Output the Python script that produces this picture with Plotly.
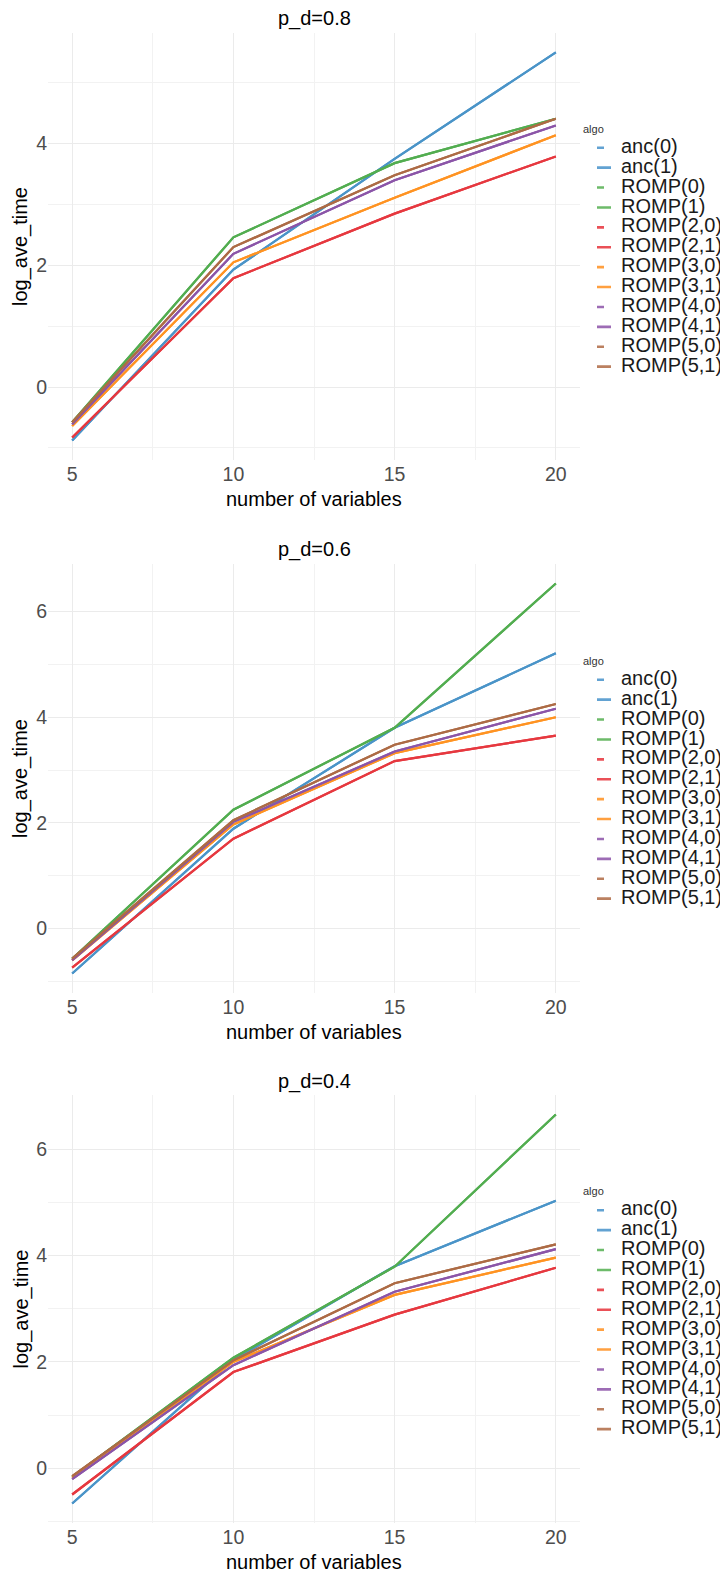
import plotly.graph_objects as go

# ---------------- data ----------------
x_vars = [5, 10, 15, 20]
algos = ["anc(0)", "anc(1)", "ROMP(0)", "ROMP(1)", "ROMP(2,0)", "ROMP(2,1)",
         "ROMP(3,0)", "ROMP(3,1)", "ROMP(4,0)", "ROMP(4,1)", "ROMP(5,0)", "ROMP(5,1)"]
panel_titles = ["p_d=0.8", "p_d=0.6", "p_d=0.4"]
x_ticks = [5, 10, 15, 20]
y_ticks = [0, 2, 4, 6]

# p_d = 0.8  (the (0) and (1) variants coincide)
pd08_anc = [-0.88, 1.93, 3.75, 5.50]
pd08_romp1 = [-0.58, 2.46, 3.68, 4.41]
pd08_romp2 = [-0.83, 1.79, 2.85, 3.79]
pd08_romp3 = [-0.64, 2.05, 3.11, 4.14]
pd08_romp4 = [-0.61, 2.19, 3.40, 4.30]
pd08_romp5 = [-0.58, 2.30, 3.48, 4.41]

# p_d = 0.6
pd06_anc = [-0.85, 1.89, 3.80, 5.21]
pd06_romp1 = [-0.57, 2.25, 3.80, 6.53]
pd06_romp2 = [-0.74, 1.70, 3.17, 3.65]
pd06_romp3 = [-0.60, 1.97, 3.32, 4.00]
pd06_romp4 = [-0.60, 2.02, 3.35, 4.16]
pd06_romp5 = [-0.57, 2.05, 3.48, 4.25]

# p_d = 0.4
pd04_anc = [-0.66, 2.04, 3.80, 5.03]
pd04_romp1 = [-0.16, 2.08, 3.79, 6.65]
pd04_romp2 = [-0.49, 1.81, 2.89, 3.77]
pd04_romp3 = [-0.18, 2.00, 3.26, 3.96]
pd04_romp4 = [-0.20, 1.94, 3.32, 4.12]
pd04_romp5 = [-0.145, 2.03, 3.48, 4.21]

panels = [
    [pd08_anc, pd08_romp1, pd08_romp2, pd08_romp3, pd08_romp4, pd08_romp5],
    [pd06_anc, pd06_romp1, pd06_romp2, pd06_romp3, pd06_romp4, pd06_romp5],
    [pd04_anc, pd04_romp1, pd04_romp2, pd04_romp3, pd04_romp4, pd04_romp5],
]

# ---------------- style ----------------
line_colors = ["#4A94C8", "#52AD50", "#E6383F", "#FF9322", "#8B55A8", "#AD6B45"]
key_colors = ["#62A2D2", "#6DBB6A", "#EA5057", "#FFA040", "#9D6CB5", "#BB8060"]
FONT = "Liberation Sans, Arial, sans-serif"

# the page body has an 8px margin, so the figure starts at (8, 8) in the window
OFF = 8
W, H = 728 - OFF, 1574 - OFF

# pixel geometry (window coordinates) of the three panels (top, bottom)
plot_left, plot_right = 48, 580
panel_px = [(33, 460), (564, 993), (1095, 1523)]


def px_x(px):
    return (px - OFF) / W


def py(px):
    return 1 - (px - OFF) / H


fig = go.Figure()
layout_axes = {}
annotations = []

for p, series in enumerate(panels):
    sfx = "" if p == 0 else str(p + 1)
    xa, ya = "x" + sfx, "y" + sfx
    leg = "legend" + sfx
    # data lines
    for i, name in enumerate(algos):
        vals = series[i // 2]
        fig.add_trace(go.Scatter(
            x=x_vars, y=vals, mode="lines", name=name, xaxis=xa, yaxis=ya,
            line=dict(color=line_colors[i // 2], width=2.2),
            showlegend=False, hoverinfo="x+y+name"))
    # legend entries (short ggplot-like keys)
    for i, name in enumerate(algos):
        dash = "0px,11px,7px,100px" if i % 2 == 0 else "0px,11px,14px,100px"
        fig.add_trace(go.Scatter(
            x=[None], y=[None], mode="lines", xaxis=xa, yaxis=ya,
            name='<span style="font-size:20px">' + name + '</span>',
            line=dict(color=key_colors[i // 2], width=2.6, dash=dash),
            legend=leg, showlegend=True, hoverinfo="skip"))

    allv = [v for s in series for v in s]
    lo, hi = min(allv), max(allv)
    pad = 0.05 * (hi - lo)
    top, bot = panel_px[p]
    layout_axes["xaxis" + sfx] = dict(
        domain=[px_x(plot_left), px_x(plot_right)], anchor=ya, range=[4.25, 20.75],
        tickvals=x_ticks, ticks="", showline=False, zeroline=False, automargin=False,
        showgrid=True, gridcolor="#ebebeb", gridwidth=1.1,
        minor=dict(dtick=2.5, tick0=5, showgrid=True, gridcolor="#f2f2f2", gridwidth=0.8),
        tickfont=dict(family=FONT, size=19.5, color="#4d4d4d"), fixedrange=True)
    layout_axes["yaxis" + sfx] = dict(
        domain=[py(bot), py(top)], anchor=xa, range=[lo - pad, hi + pad],
        tickvals=y_ticks, ticks="", showline=False, zeroline=False, automargin=False,
        showgrid=True, gridcolor="#ebebeb", gridwidth=1.1,
        minor=dict(dtick=1, tick0=0, showgrid=True, gridcolor="#f2f2f2", gridwidth=0.8),
        tickfont=dict(family=FONT, size=19.5, color="#4d4d4d"), fixedrange=True)
    layout_axes[leg] = dict(
        x=px_x(plot_right + 1), xanchor="left",
        y=py((top + bot) / 2 + 4), yanchor="middle",
        font=dict(family=FONT, size=13, color="#1a1a1a"),
        title=dict(text="algo", side="top", font=dict(family=FONT, size=11, color="#333333")),
        bgcolor="rgba(0,0,0,0)", borderwidth=0, tracegroupgap=0, itemwidth=30,
        traceorder="normal")
    # titles
    annotations.append(dict(text=panel_titles[p], x=px_x((plot_left + plot_right) / 2),
                            y=py(top - 14), xref="paper", yref="paper", showarrow=False,
                            xanchor="center", yanchor="middle",
                            font=dict(family=FONT, size=20, color="#000000")))
    annotations.append(dict(text="number of variables", x=px_x((plot_left + plot_right) / 2),
                            y=py(bot + 39), xref="paper", yref="paper", showarrow=False,
                            xanchor="center", yanchor="middle",
                            font=dict(family=FONT, size=20, color="#000000")))
    annotations.append(dict(text="log_ave_time", x=px_x(20.5), y=py((top + bot) / 2),
                            xref="paper", yref="paper", showarrow=False, textangle=-90,
                            xanchor="center", yanchor="middle",
                            font=dict(family=FONT, size=20, color="#000000")))

fig.update_layout(
    width=W, height=H,
    margin=dict(l=0, r=0, t=0, b=0, autoexpand=False),
    paper_bgcolor="white", plot_bgcolor="white",
    font=dict(family=FONT),
    annotations=annotations,
    **layout_axes)

fig.write_html("out.html")
